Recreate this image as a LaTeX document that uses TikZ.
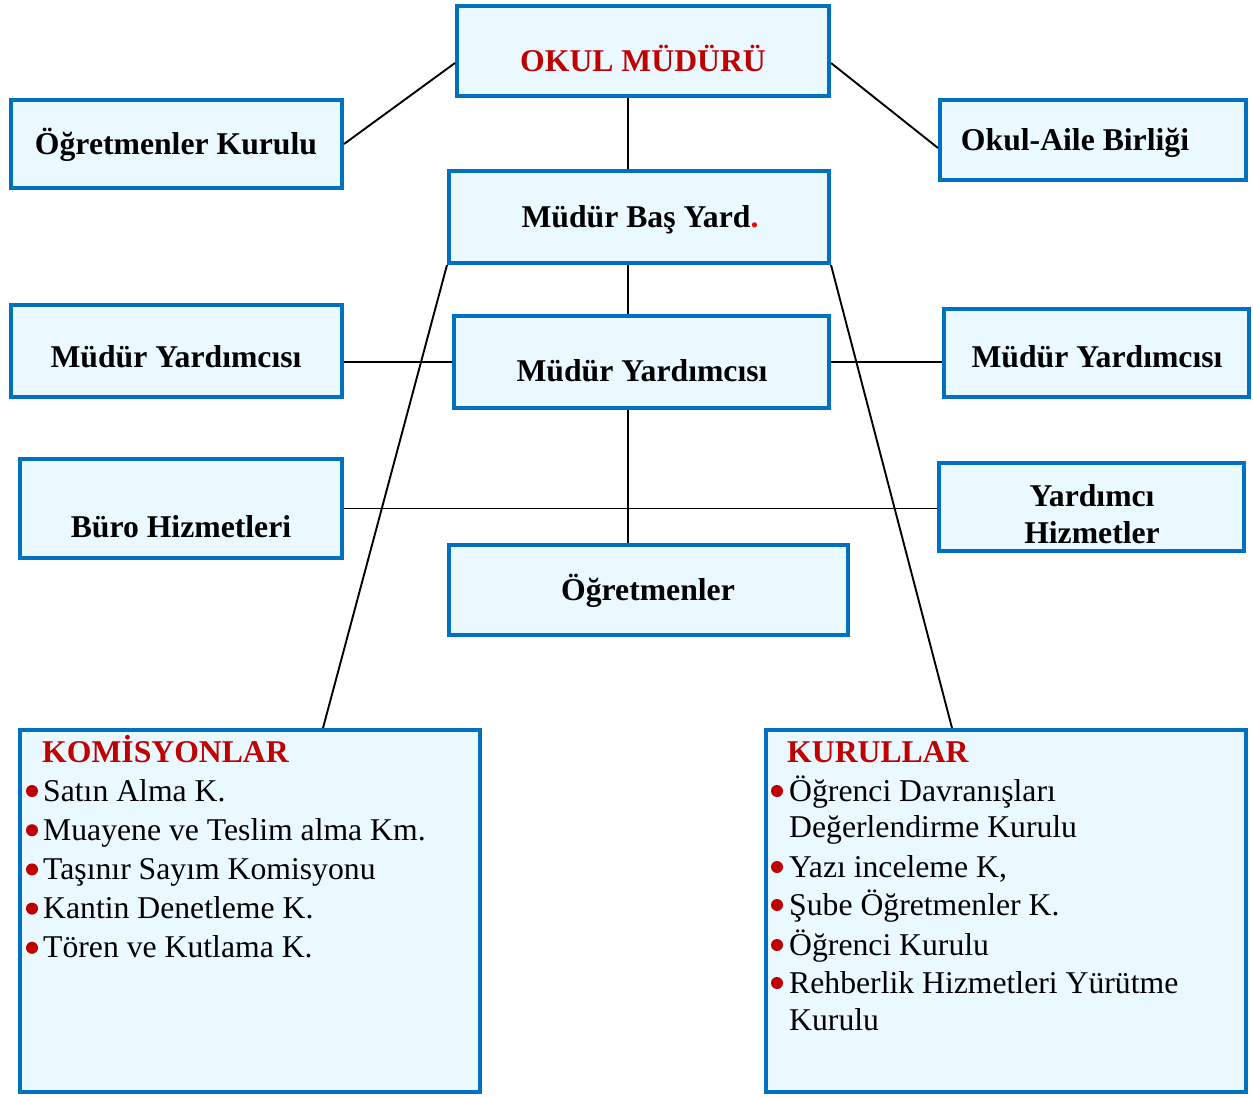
\documentclass[tikz,border=0pt]{standalone}
\usepackage{fontspec}
\setmainfont{Liberation Serif}
\usetikzlibrary{positioning}
\definecolor{BoxBlue}{RGB}{0, 112, 192}
\definecolor{BoxFill}{RGB}{234, 248, 255}
\definecolor{TitleRed}{RGB}{192, 0, 0}
\definecolor{DotRed}{RGB}{255, 0, 0}

\begin{document}
\begin{tikzpicture}[x=1pt, y=-1pt,
    box/.style={draw=BoxBlue, line width=4pt, fill=BoxFill, inner sep=0pt},
    lbl/.style={font=\fontsize{31.7}{37}\selectfont\bfseries, align=center, inner sep=0pt, anchor=base},
    item/.style={font=\fontsize{31.7}{37}\selectfont, anchor=base west, inner sep=0pt},
    link/.style={line width=1.9pt}]
    \useasboundingbox (0,0) rectangle (1253,1097);
    \coordinate (spine) at (628,0);

    % boxes
    \node[box, minimum width=372, minimum height=90] (okul) at (643,51) {};
    \node[box, minimum width=331, minimum height=88] (ogk) at (176.5,144) {};
    \node[box, minimum width=306, minimum height=80] (oab) at (1093,140) {};
    \node[box, minimum width=380, minimum height=92] (bas) at (639,217) {};
    \node[box, minimum width=331, minimum height=92] (myl) at (176.5,351) {};
    \node[box, minimum width=375, minimum height=92] (myc) at (641.5,362) {};
    \node[box, minimum width=305, minimum height=88] (myr) at (1096.5,353) {};
    \node[box, minimum width=322, minimum height=99] (buro) at (181,508.5) {};
    \node[box, minimum width=305, minimum height=88] (yard) at (1091.5,507) {};
    \node[box, minimum width=399, minimum height=90] (ogr) at (648.5,590) {};
    \node[box, minimum width=460, minimum height=362] (kom) at (250,911) {};
    \node[box, minimum width=480, minimum height=362] (kur) at (1006,911) {};

    % connectors
    \draw[link] (okul.south -| spine) -- (bas.north -| spine);
    \draw[link] (ogk.east) -- ([yshift=-12pt]okul.west);
    \draw[link] ([yshift=-12pt]okul.east) -- ([yshift=-8pt]oab.west);
    \draw[link] (bas.south -| spine) -- (myc.north -| spine);
    \draw[link] (myl.east |- myc.west) -- (myc.west);
    \draw[link] (myc.east) -- (myc.east -| myr.west);
    \draw[link] (myc.south -| spine) -- (ogr.north -| spine);
    \draw[link] (buro.east) -- (buro.east -| yard.west);
    \draw[link] (bas.south west) -- ([xshift=73pt]kom.north);
    \draw[link] (bas.south east) -- ([xshift=-54pt]kur.north);

    % labels
    \node[lbl, text=TitleRed] (okult) at (643,72) {OKUL MÜDÜRÜ};
    \node[lbl] (ogkt) at (176,154) {Öğretmenler Kurulu};
    \node[lbl] (oabt) at (1075,150) {Okul-Aile Birliği};
    \node[lbl] (bast) at (640,227) {Müdür Baş Yard\textcolor{DotRed}{.}};
    \node[lbl] (mylt) at (176,367) {Müdür Yardımcısı};
    \node[lbl] (myct) at (642,381) {Müdür Yardımcısı};
    \node[lbl] (myrt) at (1097,367) {Müdür Yardımcısı};
    \node[lbl] (burot) at (181,537) {Büro Hizmetleri};
    \node[lbl, anchor=center] (yardt) at (1092,514) {Yardımcı\\Hizmetler};
    \node[lbl] (ogrt) at (648,600) {Öğretmenler};

    % lists
    \node[lbl, anchor=base west, text=TitleRed] (komt) at (42,762) {KOMİSYONLAR};
    \foreach \t [count=\i] in {Satın Alma K., Muayene ve Teslim alma Km., Taşınır Sayım Komisyonu,
        Kantin Denetleme K., Tören ve Kutlama K.} {
      \fill[TitleRed] (32,{791+39.2*(\i-1)}) circle (6pt);
      \node[item] (kom\i) at (43,{801+39.2*(\i-1)}) {\t};
    }
    \node[lbl, anchor=base west, text=TitleRed] (kurt) at (787,762) {KURULLAR};
    \foreach \y/\t in {801/Öğrenci Davranışları, 877/{Yazı inceleme K,}, 915/Şube Öğretmenler K.,
        955/Öğrenci Kurulu, 993/Rehberlik Hizmetleri Yürütme} {
      \fill[TitleRed] (777,\y-10) circle (6pt);
      \node[item] (kur\y) at (789,\y) {\t};
    }
    \node[item] (kur837) at (789,837) {Değerlendirme Kurulu};
    \node[item] (kur1030) at (789,1030) {Kurulu};
  \end{tikzpicture}
\end{document}
